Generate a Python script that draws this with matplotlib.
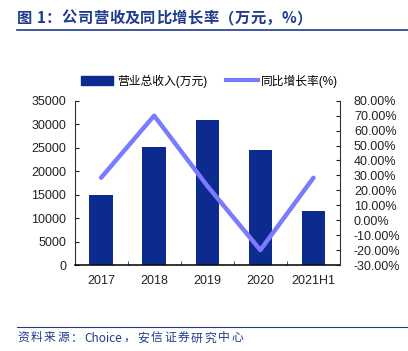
import matplotlib
matplotlib.use("Agg")
import re
import matplotlib.pyplot as plt
from matplotlib.lines import Line2D
from matplotlib.patches import Patch
from matplotlib.ticker import FuncFormatter, MultipleLocator, FixedLocator

categories = ["2017", "2018", "2019", "2020", "2021H1"]
revenue = [14900, 25050, 30800, 24600, 11450]
growth = [28.4, 70.0, 23.0, -20.0, 28.4]

title_text = "图 1：公司营收及同比增长率（万元，%）"
source_text = "资料来源：Choice，安信证券研究中心"
bar_label = "营业总收入(万元)"
line_label = "同比增长率(%)"

bar_color = "#0D2A8E"
line_color = "#7B7BFF"
blue_text = "#1F3B8C"

plt.rcParams['font.family'] = ['Liberation Sans', 'Noto Sans CJK SC', 'DejaVu Sans']

W, H = 408, 351
fig = plt.figure(figsize=(W/100, H/100), dpi=100)
ax = fig.add_axes([74.5/W, 1-265/H, (340-74.5)/W, (265-100.7)/H])
x = list(range(len(categories)))
ax.bar(x, revenue, width=0.44, color=bar_color, zorder=2)
ax.set_xlim(-0.5, len(categories)-0.5)
ax.set_ylim(0, 35000)
ax.yaxis.set_major_locator(MultipleLocator(5000))
ax.set_xticks(x)
ax.set_xticklabels(categories)
ax.xaxis.set_minor_locator(FixedLocator([i + 0.5 for i in range(len(categories)-1)]))
ax.tick_params(axis='x', which='major', length=0, labelsize=9, pad=7, colors='#222222')
ax.tick_params(axis='x', which='minor', length=3, direction='in', color='#333333')
ax.tick_params(axis='y', direction='in', length=3, labelsize=9, colors='#222222', pad=6)
for s in ['top', 'right']:
    ax.spines[s].set_visible(False)
ax.spines['left'].set_color('#333333')
ax.spines['bottom'].set_color('#111111')
ax.spines['bottom'].set_linewidth(1.2)

ax2 = ax.twinx()
ax2.plot(x, growth, color=line_color, linewidth=3.2, solid_capstyle='round', zorder=3)
ax2.set_ylim(-30, 80)
ax2.yaxis.set_major_locator(MultipleLocator(10))
ax2.yaxis.set_major_formatter(FuncFormatter(lambda v, p: f"{v:.2f}%"))
ax2.tick_params(axis='y', direction='in', length=3, labelsize=9, colors='#222222', pad=10)
for s in ['top', 'left', 'bottom']:
    ax2.spines[s].set_visible(False)
ax2.spines['right'].set_color('#333333')

handles = [Patch(color=bar_color), Line2D([0], [0], color=line_color, linewidth=3)]
fig.legend(handles, [bar_label, line_label], loc='center', bbox_to_anchor=(210/W, 1-81/H),
           ncol=2, frameon=False, fontsize=8.5, handlelength=2.7, handleheight=0.9,
           columnspacing=1.6, handletextpad=0.3)

renderer = fig.canvas.get_renderer()


def spaced_text(s, x0, y0, x1, **kw):
    """Draw string s chunk by chunk (Latin words kept whole) from x0 to x1 (pixels)."""
    parts = re.findall(r"[A-Za-z0-9]+|.", s)
    tmp = [fig.text(0, 0, p, **kw) for p in parts]
    widths = [t.get_window_extent(renderer).width for t in tmp]
    for t in tmp:
        t.remove()
    extra = (x1 - x0 - sum(widths)) / max(len(parts) - 1, 1)
    cx = x0
    for p, w in zip(parts, widths):
        fig.text(cx / W, 1 - y0 / H, p, ha='left', va='center', **kw)
        cx += w + extra


spaced_text(title_text, 17, 18, 312, fontsize=11, fontweight='bold', color=blue_text,
            family=['Noto Sans CJK SC', 'DejaVu Sans'])
fig.add_artist(Line2D([17/W, 1], [1-30/H, 1-30/H], color=blue_text, linewidth=1.2))
fig.add_artist(Line2D([17/W, 1], [1-327/H, 1-327/H], color=blue_text, linewidth=0.8))
spaced_text(source_text, 17, 338, 243, fontsize=8.5, style='italic', color=blue_text,
            family=['Noto Sans CJK SC', 'DejaVu Sans'])

fig.savefig("out.png", dpi=100)
